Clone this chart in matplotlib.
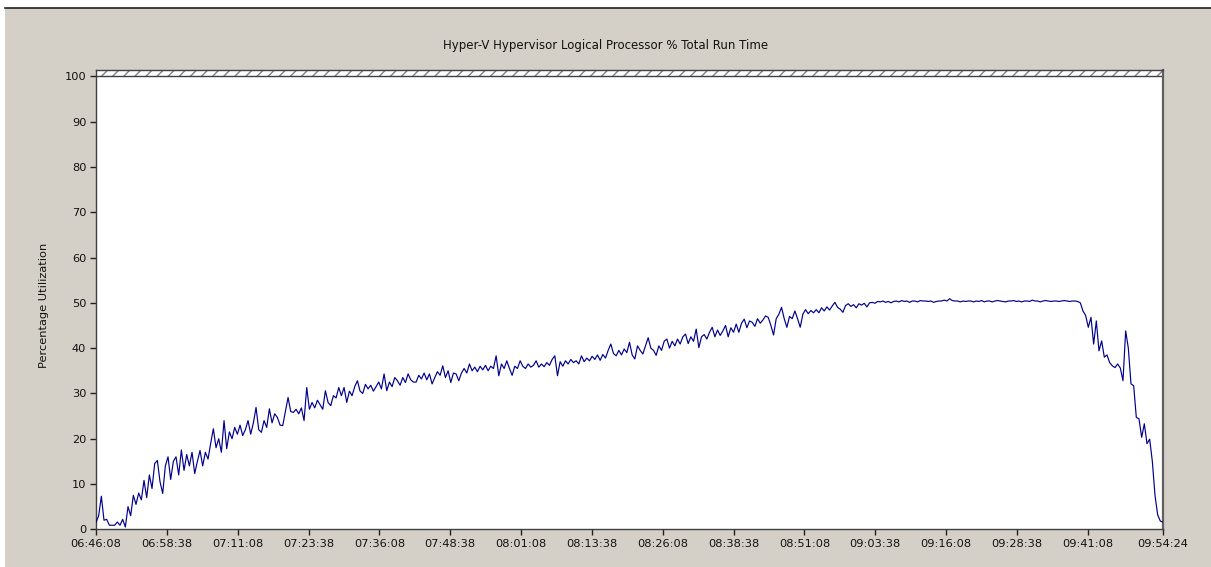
import numpy as np
import matplotlib
matplotlib.use("Agg")
import matplotlib.pyplot as plt
from matplotlib.patches import Rectangle
from matplotlib.lines import Line2D

title = "Hyper-V Hypervisor Logical Processor % Total Run Time"
y_label = "Percentage Utilization"

start_time = "06:46:08"
end_time = "09:54:24"
tick_labels = ["06:46:08", "06:58:38", "07:11:08", "07:23:38", "07:36:08",
               "07:48:38", "08:01:08", "08:13:38", "08:26:08", "08:38:38",
               "08:51:08", "09:03:38", "09:16:08", "09:28:38", "09:41:08",
               "09:54:24"]
y_ticks = [0, 10, 20, 30, 40, 50, 60, 70, 80, 90, 100]

# % Total Run Time samples, evenly spaced between start_time and end_time
run_time_pct = [
    # 06:46 - 06:59
    1.5, 3, 7.3, 2, 2.2, 0.9, 0.9, 0.9, 1.6, 0.9,
    2.2, 0.5, 5, 3, 7.5, 5.5, 8, 6.5, 10.8, 7,
    12, 9, 14.5, 15.2, 10.5, 7.9, 14, 16, 11, 15,
    # 06:59 - 07:13
    16, 12, 17.5, 13, 16.5, 14, 17, 12.3, 15, 17.4,
    14, 17, 15.5, 19, 22.2, 18, 20, 17, 24, 17.8,
    21.5, 20, 22.5, 21, 23, 20.7, 22, 24, 21, 23.5,
    # 07:13 - 07:27
    26.9, 22, 21.4, 24, 22.5, 26.6, 23.5, 25.5, 24.7, 23,
    22.9, 26, 29.1, 26, 25.8, 26.5, 25.5, 26.8, 24, 31.3,
    26.5, 28, 26.8, 28.5, 27.5, 26.5, 30.6, 28, 27.3, 29.5,
    # 07:27 - 07:41
    29, 31.3, 29.5, 31.3, 28, 30.5, 29.5, 31.5, 32.8, 30.5,
    30, 32, 31, 31.8, 30.5, 31.5, 32.5, 31, 34.3, 30.6,
    32.5, 31.5, 33.5, 32.8, 31.8, 33.5, 32.4, 34.3, 33, 32.5,
    # 07:41 - 07:55
    32.5, 34, 33.2, 34.5, 33, 34.3, 32.1, 33.5, 34.8, 34,
    36.1, 33.5, 35, 32.4, 34.5, 34.3, 32.8, 34.5, 35.5, 34.5,
    36.5, 35, 35.8, 34.8, 36, 35.2, 36.2, 35, 36, 35.5,
    # 07:55 - 08:09
    38.3, 33.9, 36.5, 35.5, 37.2, 35.5, 34, 36, 35.5, 37.2,
    36, 35.5, 36.5, 35.8, 36.2, 37.2, 35.8, 36.5, 35.9, 36.8,
    36.2, 37.5, 38.3, 33.9, 37, 36, 37.2, 36.5, 37.5, 36.8,
    # 08:09 - 08:23
    37.2, 36.5, 38.3, 37, 37.8, 37.2, 38.2, 37.5, 38.5, 37.3,
    38.6, 37.8, 39.5, 40.9, 38.8, 38.3, 39.5, 38.5, 39.8, 39,
    41.3, 38.5, 37.6, 40.5, 39.5, 38.7, 40.5, 42.3, 40, 39.5,
    # 08:23 - 08:37
    38.4, 40.5, 39.5, 41.5, 42, 40, 41.5, 40.5, 42, 40.9,
    42.5, 43.1, 41, 42.5, 41.5, 44.2, 40.1, 42.5, 43, 42,
    43.5, 44.6, 42.5, 44, 42.8, 43.8, 45, 42.5, 44.5, 43.5,
    # 08:37 - 08:51
    45.3, 43.5, 45.5, 46.4, 44.5, 46, 45.7, 44.8, 46.5, 45.5,
    46.2, 47.1, 46.8, 45, 42.9, 46.5, 47.5, 49, 46.5, 44.6,
    47, 46.5, 48.2, 46.5, 44.6, 47.5, 48.5, 47.6, 48.3, 47.8,
    # 08:51 - 09:05
    48.5, 47.8, 48.9, 48.2, 49.1, 48.4, 49.3, 50.1, 49, 48.6,
    47.9, 49.4, 49.8, 49.2, 49.6, 48.9, 49.8, 49.5, 49.9, 49.1,
    50, 50.1, 49.9, 50.3, 50.2, 50.4, 50.1, 50.3, 50.0, 50.3,
    # 09:05 - 09:19
    50.4, 50.2, 50.5, 50.3, 50.4, 50.1, 50.4, 50.4, 50.2, 50.5,
    50.4, 50.4, 50.3, 50.4, 50.1, 50.3, 50.4, 50.4, 50.6, 50.4,
    50.9, 50.5, 50.4, 50.4, 50.2, 50.4, 50.3, 50.4, 50.4, 50.2,
    # 09:19 - 09:33
    50.4, 50.3, 50.5, 50.2, 50.4, 50.4, 50.2, 50.4, 50.5, 50.4,
    50.3, 50.2, 50.4, 50.4, 50.5, 50.3, 50.4, 50.2, 50.4, 50.4,
    50.3, 50.6, 50.4, 50.4, 50.2, 50.4, 50.5, 50.4, 50.3, 50.4,
    # 09:33 - 09:47
    50.4, 50.3, 50.4, 50.5, 50.4, 50.3, 50.4, 50.4, 50.3, 50.0,
    48.2, 47.2, 44.6, 46.8, 40.9, 46.0, 39.4, 41.6, 38.0, 38.5,
    36.8, 36.1, 35.7, 36.5, 35.6, 32.8, 43.8, 40.0, 32.1, 31.7,
    # 09:47 - 09:54
    24.7, 24.4, 20.3, 23.3, 18.9, 19.9, 15.0, 7.5, 3.2, 1.8, 1.6,
]


def to_seconds(hms):
    h, m, s = (int(p) for p in hms.split(":"))
    return h * 3600 + m * 60 + s


t0 = to_seconds(start_time)
t1 = to_seconds(end_time)
values = np.asarray(run_time_pct, dtype=float)
times = np.linspace(0, t1 - t0, len(values))
tick_pos = [to_seconds(t) - t0 for t in tick_labels]

W, H, DPI = 1211, 567, 100
BG = "#d4d0c8"
fig = plt.figure(figsize=(W / DPI, H / DPI), dpi=DPI, facecolor="white")

# window panel with a dark top edge
fig.patches.append(Rectangle((5 / W, 0), 1 - 5 / W, 1 - 7.5 / H,
                             transform=fig.transFigure, facecolor=BG,
                             edgecolor="none", zorder=-10))
fig.lines.append(Line2D([5 / W, 1], [1 - 7.5 / H, 1 - 7.5 / H],
                        transform=fig.transFigure, color="#202020", lw=1.2))

left, right = 96 / W, 1163 / W
bottom, top = (H - 529.3) / H, (H - 70) / H
ax = fig.add_axes([left, bottom, right - left, top - bottom])
ax.set_facecolor("white")

ymax = 101.4
ax.set_xlim(0, t1 - t0)
ax.set_ylim(0, ymax)

# hatched overflow band above 100 %
ax.axhspan(100, ymax, facecolor="white", edgecolor="#808080", hatch="///",
           linewidth=0, zorder=1)
ax.axhline(100, color="#404040", lw=1.0, zorder=2)

ax.plot(times, values, color="#00008b", lw=0.85, zorder=3)

for side in ("left", "bottom", "top", "right"):
    ax.spines[side].set_color("#404040")
    ax.spines[side].set_linewidth(1.0)
ax.spines["right"].set_color("#606060")
ax.spines["right"].set_linewidth(1.6)

ax.set_yticks(y_ticks)
ax.set_yticklabels([str(v) for v in y_ticks])
ax.set_xticks(tick_pos)
ax.set_xticklabels(tick_labels)
ax.tick_params(axis="both", direction="out", length=4, width=1,
               color="#202020", labelsize=8.2, labelcolor="#111111", pad=3)

fig.text(0.5, 1 - 45 / H, title, ha="center", va="center", fontsize=8.5,
         color="#111111")
fig.text(44 / W, (H - 305) / H, y_label, ha="center", va="center",
         rotation=90, fontsize=8.2, color="#111111")

fig.savefig("out.png", dpi=DPI, facecolor=fig.get_facecolor())
